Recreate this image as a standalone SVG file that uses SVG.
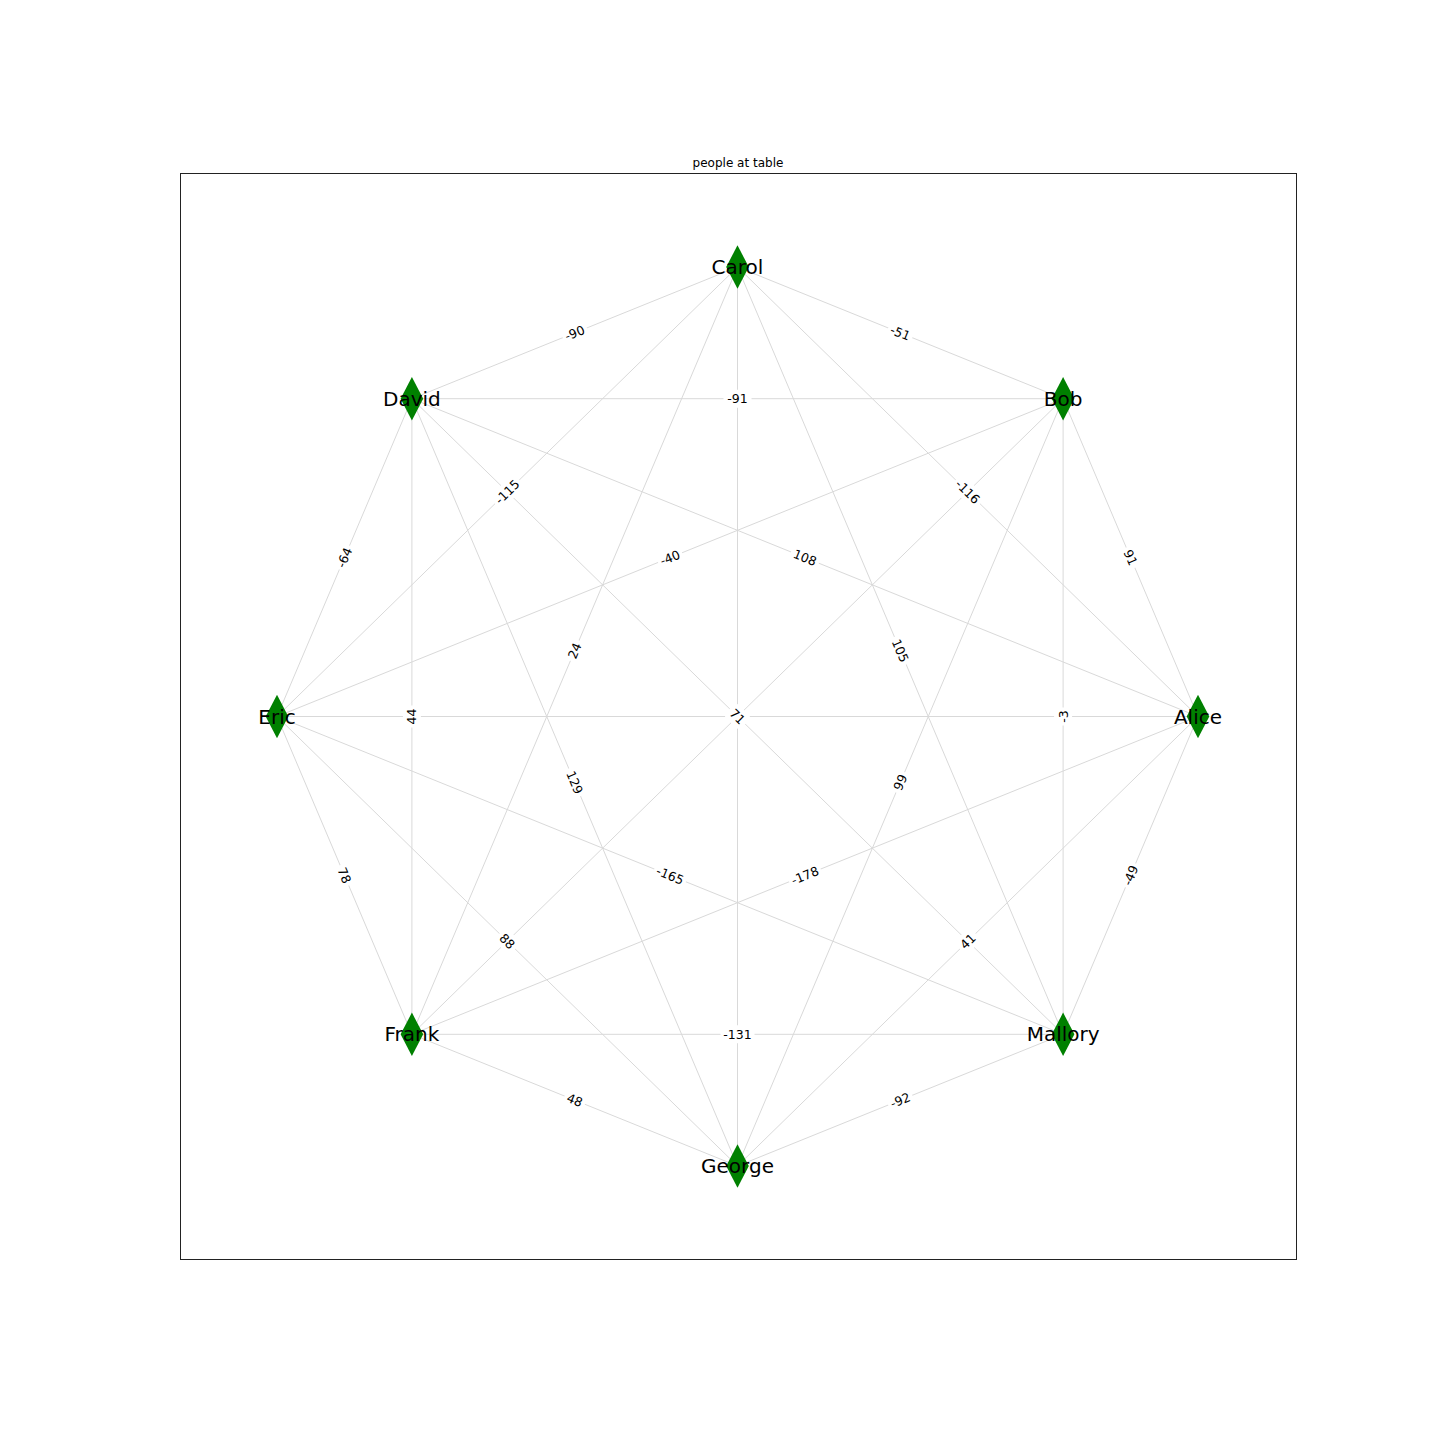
<svg xmlns="http://www.w3.org/2000/svg" xmlns:xlink="http://www.w3.org/1999/xlink" width="1440" height="1440" viewBox="0 0 1440 1440">
<style>
.edge{stroke:#d9d9d9;stroke-width:1;fill:none}
.el rect{fill:#fff;stroke:none}
.el text{font-family:"DejaVu Sans",sans-serif;font-size:12.5px;fill:#000;text-anchor:middle;dominant-baseline:central}
.nl{font-family:"DejaVu Sans",sans-serif;font-size:20px;fill:#000;text-anchor:middle;dominant-baseline:central}
.title{font-family:"DejaVu Sans",sans-serif;font-size:12px;fill:#000;text-anchor:middle}
</style>
<defs>
<polygon id="dia" points="0,-21.7 11.3,0 0,21.7 -11.3,0" fill="#008000"/>
</defs>
<rect width="1440" height="1440" fill="#fff"/>
<rect x="180.5" y="173.5" width="1116" height="1086" fill="none" stroke="#222" stroke-width="1"/>
<text class="title" x="738" y="167">people at table</text>
<g id="connectors">
<line class="edge" x1="737.5" y1="267" x2="411.9" y2="398.7"/>
<line class="edge" x1="737.5" y1="267" x2="1063.1" y2="398.7"/>
<line class="edge" x1="411.9" y1="398.7" x2="1063.1" y2="398.7"/>
<line class="edge" x1="737.5" y1="267" x2="277" y2="716.5"/>
<line class="edge" x1="737.5" y1="267" x2="1198" y2="716.5"/>
<line class="edge" x1="411.9" y1="398.7" x2="277" y2="716.5"/>
<line class="edge" x1="1063.1" y1="398.7" x2="1198" y2="716.5"/>
<line class="edge" x1="1063.1" y1="398.7" x2="277" y2="716.5"/>
<line class="edge" x1="411.9" y1="398.7" x2="1198" y2="716.5"/>
<line class="edge" x1="737.5" y1="267" x2="411.9" y2="1034.3"/>
<line class="edge" x1="737.5" y1="267" x2="1063.1" y2="1034.3"/>
<line class="edge" x1="737.5" y1="267" x2="737.5" y2="1166"/>
<line class="edge" x1="411.9" y1="398.7" x2="1063.1" y2="1034.3"/>
<line class="edge" x1="1063.1" y1="398.7" x2="411.9" y2="1034.3"/>
<line class="edge" x1="277" y1="716.5" x2="1198" y2="716.5"/>
<line class="edge" x1="411.9" y1="398.7" x2="411.9" y2="1034.3"/>
<line class="edge" x1="1063.1" y1="398.7" x2="1063.1" y2="1034.3"/>
<line class="edge" x1="277" y1="716.5" x2="411.9" y2="1034.3"/>
<line class="edge" x1="1198" y1="716.5" x2="1063.1" y2="1034.3"/>
<line class="edge" x1="411.9" y1="398.7" x2="737.5" y2="1166"/>
<line class="edge" x1="1063.1" y1="398.7" x2="737.5" y2="1166"/>
<line class="edge" x1="277" y1="716.5" x2="1063.1" y2="1034.3"/>
<line class="edge" x1="1198" y1="716.5" x2="411.9" y2="1034.3"/>
<line class="edge" x1="277" y1="716.5" x2="737.5" y2="1166"/>
<line class="edge" x1="1198" y1="716.5" x2="737.5" y2="1166"/>
<line class="edge" x1="411.9" y1="1034.3" x2="1063.1" y2="1034.3"/>
<line class="edge" x1="411.9" y1="1034.3" x2="737.5" y2="1166"/>
<line class="edge" x1="1063.1" y1="1034.3" x2="737.5" y2="1166"/>
</g>
<g id="edge-labels">
<g class="el" transform="translate(574.7,332.85) rotate(-22)"><rect x="-13" y="-9" width="26" height="18" rx="4"/><text>-90</text></g>
<g class="el" transform="translate(900.3,332.85) rotate(22)"><rect x="-13" y="-9" width="26" height="18" rx="4"/><text>-51</text></g>
<g class="el" transform="translate(737.5,398.7)"><rect x="-14" y="-9" width="28" height="18" rx="4"/><text>-91</text></g>
<g class="el" transform="translate(507.25,491.75) rotate(-44.3)"><rect x="-17" y="-9" width="34" height="18" rx="4"/><text>-115</text></g>
<g class="el" transform="translate(967.75,491.75) rotate(44.3)"><rect x="-17" y="-9" width="34" height="18" rx="4"/><text>-116</text></g>
<g class="el" transform="translate(344.45,557.6) rotate(-67)"><rect x="-13" y="-9" width="26" height="18" rx="4"/><text>-64</text></g>
<g class="el" transform="translate(1130.55,557.6) rotate(67)"><rect x="-11" y="-9" width="22" height="18" rx="4"/><text>91</text></g>
<g class="el" transform="translate(670.05,557.6) rotate(-22)"><rect x="-13" y="-9" width="26" height="18" rx="4"/><text>-40</text></g>
<g class="el" transform="translate(804.95,557.6) rotate(22)"><rect x="-15" y="-9" width="30" height="18" rx="4"/><text>108</text></g>
<g class="el" transform="translate(574.7,650.65) rotate(-67)"><rect x="-11" y="-9" width="22" height="18" rx="4"/><text>24</text></g>
<g class="el" transform="translate(900.3,650.65) rotate(67)"><rect x="-15" y="-9" width="30" height="18" rx="4"/><text>105</text></g>
<g class="el" transform="translate(737.5,716.5) rotate(44.3)"><rect x="-11" y="-9" width="22" height="18" rx="4"/><text>71</text></g>
<g class="el" transform="translate(411.9,716.5) rotate(-90)"><rect x="-11" y="-9" width="22" height="18" rx="4"/><text>44</text></g>
<g class="el" transform="translate(1063.1,716.5) rotate(-90)"><rect x="-9" y="-9" width="18" height="18" rx="4"/><text>-3</text></g>
<g class="el" transform="translate(344.45,875.4) rotate(67)"><rect x="-11" y="-9" width="22" height="18" rx="4"/><text>78</text></g>
<g class="el" transform="translate(1130.55,875.4) rotate(-67)"><rect x="-13" y="-9" width="26" height="18" rx="4"/><text>-49</text></g>
<g class="el" transform="translate(574.7,782.35) rotate(67)"><rect x="-15" y="-9" width="30" height="18" rx="4"/><text>129</text></g>
<g class="el" transform="translate(900.3,782.35) rotate(-67)"><rect x="-11" y="-9" width="22" height="18" rx="4"/><text>99</text></g>
<g class="el" transform="translate(670.05,875.4) rotate(22)"><rect x="-17" y="-9" width="34" height="18" rx="4"/><text>-165</text></g>
<g class="el" transform="translate(804.95,875.4) rotate(-22)"><rect x="-17" y="-9" width="34" height="18" rx="4"/><text>-178</text></g>
<g class="el" transform="translate(507.25,941.25) rotate(44.3)"><rect x="-11" y="-9" width="22" height="18" rx="4"/><text>88</text></g>
<g class="el" transform="translate(967.75,941.25) rotate(-44.3)"><rect x="-11" y="-9" width="22" height="18" rx="4"/><text>41</text></g>
<g class="el" transform="translate(737.5,1034.3)"><rect x="-17" y="-9" width="34" height="18" rx="4"/><text>-131</text></g>
<g class="el" transform="translate(574.7,1100.15) rotate(22)"><rect x="-11" y="-9" width="22" height="18" rx="4"/><text>48</text></g>
<g class="el" transform="translate(900.3,1100.15) rotate(-22)"><rect x="-13" y="-9" width="26" height="18" rx="4"/><text>-92</text></g>
</g>
<g id="node-Alice"><use xlink:href="#dia" x="1198" y="716.5"/><text class="nl" x="1198" y="716.5">Alice</text></g>
<g id="node-Bob"><use xlink:href="#dia" x="1063.1" y="398.7"/><text class="nl" x="1063.1" y="398.7">Bob</text></g>
<g id="node-Carol"><use xlink:href="#dia" x="737.5" y="267"/><text class="nl" x="737.5" y="267">Carol</text></g>
<g id="node-David"><use xlink:href="#dia" x="411.9" y="398.7"/><text class="nl" x="411.9" y="398.7">David</text></g>
<g id="node-Eric"><use xlink:href="#dia" x="277" y="716.5"/><text class="nl" x="277" y="716.5">Eric</text></g>
<g id="node-Frank"><use xlink:href="#dia" x="411.9" y="1034.3"/><text class="nl" x="411.9" y="1034.3">Frank</text></g>
<g id="node-George"><use xlink:href="#dia" x="737.5" y="1166"/><text class="nl" x="737.5" y="1166">George</text></g>
<g id="node-Mallory"><use xlink:href="#dia" x="1063.1" y="1034.3"/><text class="nl" x="1063.1" y="1034.3">Mallory</text></g>
</svg>
